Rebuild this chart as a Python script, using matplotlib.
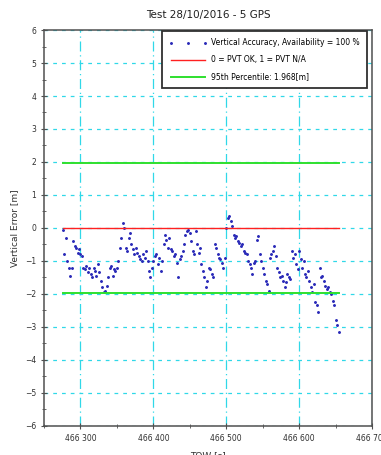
import matplotlib
matplotlib.use('Agg')
import matplotlib.pyplot as plt
from matplotlib.ticker import FuncFormatter, MultipleLocator

# Vertical error samples (TOW every 2 s)
tow_start = 466276
tow_step = 2
vert_err = [
    -0.05, -0.8, -0.3, -1.0, -1.2, -1.45, -1.2, -0.4, -0.55, -0.6,
    -0.75, -0.65, -0.8, -0.85, -1.2, -1.25, -1.15, -1.35, -1.2, -1.4,
    -1.5, -1.2, -1.3, -1.45, -1.1, -1.35, -1.6, -1.8, -1.95, -1.9,
    -1.75, -1.5, -1.2, -1.15, -1.45, -1.25, -1.3, -1.2, -1.0, -0.6,
    -0.3, 0.15, 0.0, -0.6, -0.7, -0.3, -0.15, -0.5, -0.65, -0.8,
    -0.6, -0.75, -0.85, -0.95, -1.0, -0.8, -0.9, -0.7, -1.0, -1.3,
    -1.5, -1.2, -1.0, -0.85, -0.8, -1.1, -0.9, -1.3, -1.0, -0.5,
    -0.2, -0.35, -0.6, -0.3, -0.65, -0.7, -0.85, -0.8, -1.05, -1.5,
    -0.95, -0.85, -0.7, -0.5, -0.2, -0.1, -0.05, -0.15, -0.4, -0.7,
    -0.8, -0.1, -0.5, -0.75, -0.6, -1.1, -1.3, -1.5, -1.8, -1.6,
    -1.2, -1.25, -1.4, -1.5, -0.5, -0.6, -0.8, -0.9, -0.95, -1.05,
    -1.2, -0.9, 0.0, 0.3, 0.35, 0.2, 0.05, -0.2, -0.3, -0.25,
    -0.4, -0.45, -0.55, -0.5, -0.7, -0.75, -0.8, -1.0, -1.1, -1.2,
    -1.4, -1.05, -1.0, -0.35, -0.25, -0.8, -1.0, -1.2, -1.4, -1.6,
    -1.7, -1.9, -0.9, -0.8, -0.7, -0.55, -0.85, -1.2, -1.35, -1.5,
    -1.45, -1.6, -1.8, -1.65, -1.4, -1.5, -1.55, -0.7, -0.9, -0.8,
    -1.1, -1.25, -0.7, -0.95, -1.2, -1.0, -1.4, -1.5, -1.3, -1.6,
    -1.8, -1.95, -1.7, -2.25, -2.35, -2.55, -1.2, -1.5, -1.45, -1.6,
    -1.75, -1.85, -1.8, -1.95, -2.0, -2.2, -2.35, -2.8, -2.95, -3.15,
]
tow = [tow_start + tow_step * i for i in range(len(vert_err))]

pvt_flag = 0
p95 = 1.968

fig = plt.figure(figsize=(3.81, 4.55), dpi=100)
ax = fig.add_axes([0.1155, 0.064, 0.861, 0.870])

grid_col = '#30d8e8'
ax.set_xlim(466250, 466700)
ax.set_ylim(-6, 6)
ax.xaxis.set_major_locator(MultipleLocator(100))
ax.xaxis.set_minor_locator(MultipleLocator(50))
ax.yaxis.set_major_locator(MultipleLocator(1))
ax.yaxis.set_minor_locator(MultipleLocator(0.5))
ax.xaxis.set_major_formatter(FuncFormatter(lambda v, p: f"{int(v) // 1000} {int(v) % 1000:03d}"))
ax.grid(True, which='major', axis='y', color=grid_col, linestyle=(0, (3, 4)), linewidth=0.9)
ax.grid(True, which='major', axis='x', color=grid_col, linestyle=(0, (8, 3, 1, 3)), linewidth=0.9)
ax.set_axisbelow(True)

ax.plot(tow, vert_err, '.', color='#2a2ab8', markersize=2.2,
        label='Vertical Accuracy, Availability = 100 %')
ax.plot([tow[0], tow[-1]], [pvt_flag, pvt_flag], '-', color='#ff2020', linewidth=1.0,
        label='0 = PVT OK, 1 = PVT N/A')
ax.plot([tow[0], tow[-1]], [p95, p95], '-', color='#2ee02e', linewidth=1.4,
        label='95th Percentile: %.3f[m]' % p95)
ax.plot([tow[0], tow[-1]], [-p95, -p95], '-', color='#2ee02e', linewidth=1.4)

for s in ax.spines.values():
    s.set_color('#505050')
    s.set_linewidth(1.1)
ax.tick_params(which='both', direction='inout', colors='#505050', labelsize=5.5,
               labelcolor='#303030')
ax.tick_params(which='major', length=4)
ax.tick_params(which='minor', length=2.5)

ax.set_title('Test 28/10/2016 - 5 GPS', fontsize=7.5, color='#202020', pad=9)
ax.set_ylabel('Vertical Error [m]', fontsize=6.5, color='#303030', labelpad=4)
ax.set_xlabel('TOW [s]', fontsize=6.5, color='#303030', labelpad=6)

leg = ax.legend(loc='upper right', fontsize=5.5, numpoints=3, fancybox=False,
                framealpha=1, edgecolor='#303030', borderpad=0.9, handlelength=5.0,
                handletextpad=0.5, labelspacing=1.05, bbox_to_anchor=(0.995, 1.006))
leg.get_frame().set_linewidth(1.3)

fig.savefig('out.png', dpi=100)
